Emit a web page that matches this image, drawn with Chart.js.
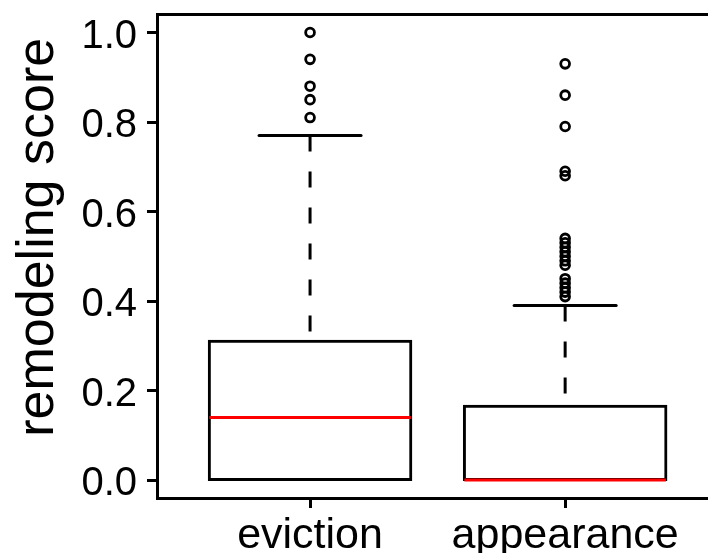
<!DOCTYPE html>
<html>
<head>
<meta charset="utf-8">
<title>remodeling score</title>
<script src="https://cdn.jsdelivr.net/npm/chart.js@4.4.1/dist/chart.umd.min.js"></script>
<style>
  html, body { margin: 0; padding: 0; background: #fff; }
  canvas { display: block; }
</style>
</head>
<body>
<canvas id="boxChart" width="708" height="553"></canvas>
<script>
// five-number summaries, one entry per group
var groups = ['eviction', 'appearance'];
var lowerQuartile = [0, 0];
var medians = [0.14, 0];
var upperQuartile = [0.31, 0.165];
var upperWhisker = [0.77, 0.39];
var outliers = [
  [1.0, 0.94, 0.88, 0.85, 0.81],
  [0.93, 0.86, 0.79, 0.69, 0.68, 0.54, 0.53, 0.52, 0.51, 0.50, 0.49, 0.48, 0.45, 0.44, 0.43, 0.42, 0.41]
];
var yTicks = [0, 0.2, 0.4, 0.6, 0.8, 1.0];

var FONT = '"Liberation Sans", Arial, Helvetica, sans-serif';
var boxWidth = 0.79;
var capWidth = 0.4;

var datasets = [];

// boxes: floating bars from Q1 to Q3, outline centred on the edges
datasets.push({
  type: 'bar',
  data: groups.map(function (g, i) { return { x: i + 1, y: [lowerQuartile[i], upperQuartile[i]] }; }),
  backgroundColor: '#fff',
  borderColor: '#000',
  borderWidth: 3,
  borderSkipped: false,
  inflateAmount: 1.5,
  barPercentage: 1,
  categoryPercentage: boxWidth,
  order: 4
});

groups.forEach(function (g, i) {
  var c = i + 1;
  // dashed whisker, drawn from the end down to the box
  datasets.push({
    type: 'line',
    data: [{ x: c, y: upperWhisker[i] }, { x: c, y: upperQuartile[i] }],
    borderColor: '#000',
    borderWidth: 3,
    borderDash: [16, 20],
    pointRadius: 0,
    order: 3
  });
  // staple
  datasets.push({
    type: 'line',
    data: [{ x: c - capWidth / 2, y: upperWhisker[i] }, { x: c + capWidth / 2, y: upperWhisker[i] }],
    borderColor: '#000',
    borderWidth: 3,
    borderCapStyle: 'round',
    pointRadius: 0,
    order: 2
  });
  // median
  datasets.push({
    type: 'line',
    data: [{ x: c - boxWidth / 2, y: medians[i] }, { x: c + boxWidth / 2, y: medians[i] }],
    borderColor: '#ff0000',
    borderWidth: 3,
    pointRadius: 0,
    order: 0
  });
});

// outliers as open circles
var outlierPoints = [];
outliers.forEach(function (arr, i) {
  arr.forEach(function (v) { outlierPoints.push({ x: i + 1, y: v }); });
});
datasets.push({
  type: 'scatter',
  data: outlierPoints,
  pointStyle: 'circle',
  pointRadius: 4.4,
  pointBorderWidth: 2.8,
  pointBorderColor: '#000',
  pointBackgroundColor: 'rgba(0,0,0,0)',
  order: 1
});

// rotated y axis title
var yTitle = {
  id: 'yTitle',
  afterDraw: function (chart) {
    var ctx = chart.ctx, area = chart.chartArea;
    ctx.save();
    ctx.translate(53, (area.top + area.bottom) / 2 - 19);
    ctx.rotate(-Math.PI / 2);
    ctx.font = '52px ' + FONT;
    ctx.fillStyle = '#000';
    ctx.textAlign = 'center';
    ctx.textBaseline = 'alphabetic';
    ctx.fillText('remodeling score', 0, 0);
    ctx.restore();
  }
};

var axisGrid = {
  display: true,
  drawOnChartArea: false,
  drawTicks: true,
  tickLength: 10,
  tickWidth: 3,
  tickColor: '#000',
  offset: false
};
var axisBorder = { display: true, width: 3, color: '#000' };

new Chart(document.getElementById('boxChart'), {
  type: 'bar',
  data: { datasets: datasets },
  options: {
    responsive: false,
    animation: false,
    events: [],
    layout: { padding: 0, autoPadding: false },
    plugins: { legend: { display: false }, tooltip: { enabled: false } },
    scales: {
      x: {
        type: 'linear',
        min: 0.4,
        max: 2.56,
        offset: false,
        afterBuildTicks: function (s) { s.ticks = groups.map(function (g, i) { return { value: i + 1 }; }); },
        afterFit: function (s) { s.height = 55; s.paddingLeft = 0; s.paddingRight = 0; },
        ticks: {
          callback: function (v) { return groups[v - 1]; },
          color: '#000',
          font: { family: FONT, size: 43 },
          padding: 2,
          maxRotation: 0,
          autoSkip: false
        },
        grid: axisGrid,
        border: axisBorder
      },
      xTop: {
        type: 'linear',
        position: 'top',
        min: 0.4,
        max: 2.56,
        offset: false,
        afterFit: function (s) { s.height = 14.6; s.paddingLeft = 0; s.paddingRight = 0; },
        ticks: { display: false },
        grid: { display: false },
        border: axisBorder
      },
      y: {
        min: -0.04,
        max: 1.04,
        afterBuildTicks: function (s) { s.ticks = yTicks.map(function (v) { return { value: v }; }); },
        afterFit: function (s) { s.width = 157; s.paddingTop = 0; s.paddingBottom = 0; },
        ticks: {
          callback: function (v) { return v.toFixed(1); },
          color: '#000',
          font: { family: FONT, size: 40 },
          padding: 10,
          labelOffset: 4
        },
        grid: axisGrid,
        border: axisBorder
      }
    }
  },
  plugins: [yTitle]
});
</script>
</body>
</html>
